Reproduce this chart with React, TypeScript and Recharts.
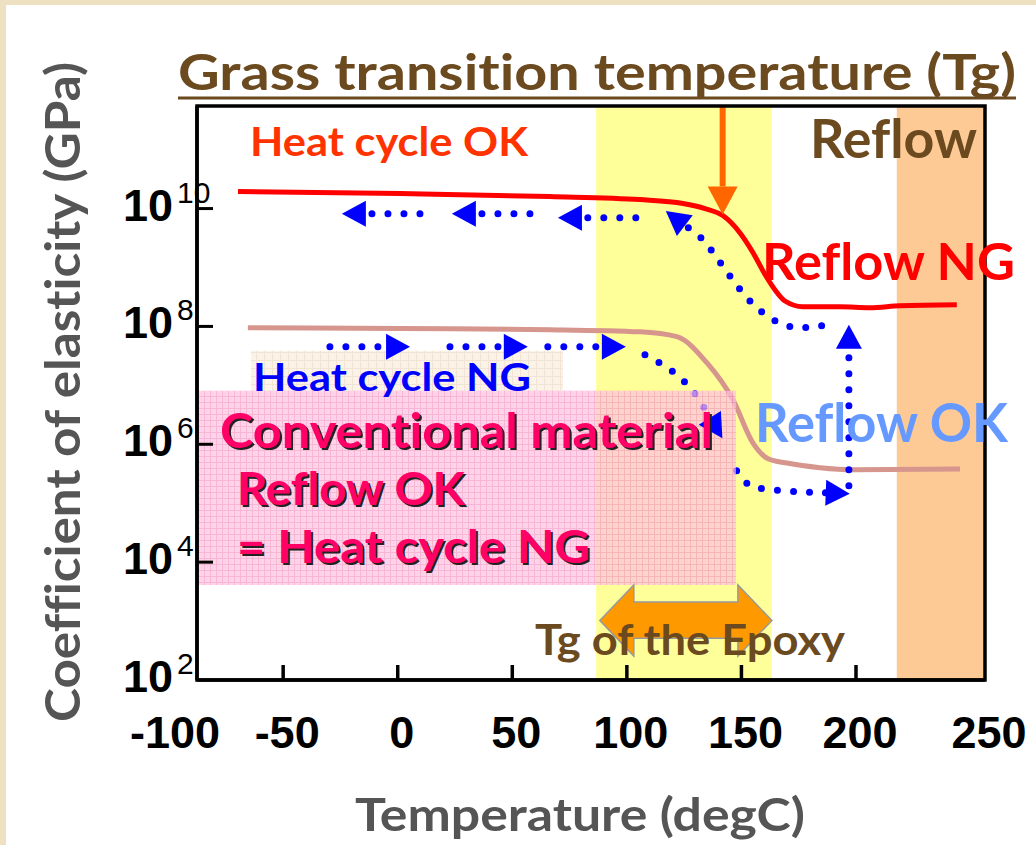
import React from 'react';
import { LineChart, Line, XAxis, YAxis, ReferenceArea } from 'recharts';

// axes
const xDomain = [-87.6, 256.3];
const yDomain = [100, 5.5e11];
const xTicks = [-87.6, -50, 0, 50, 100, 150, 200, 256.3];
const xTickLabels = ['-100', '-50', '0', '50', '100', '150', '200', '250'];
const yTicks = [1e2, 1e4, 1e6, 1e8, 1e10];
const yTickExponents = ['2', '4', '6', '8', '10'];

// new material (red) — temperature (degC) vs modulus
const newMaterial = [
  { t: -69.7, v: 1.95e10 },
  { t: 1, v: 1.8e10 },
  { t: 66.4, v: 1.6e10 },
  { t: 105.7, v: 1.42e10 },
  { t: 124.5, v: 1.22e10 },
  { t: 134.1, v: 1.0e10 },
  { t: 141.9, v: 7.6e9 },
  { t: 149.3, v: 3.9e9 },
  { t: 155.0, v: 1.8e9 },
  { t: 160.3, v: 7.6e8 },
  { t: 164.6, v: 4.2e8 },
  { t: 169.0, v: 2.7e8 },
  { t: 176.8, v: 2.16e8 },
  { t: 193.0, v: 2.16e8 },
  { t: 206.1, v: 2.08e8 },
  { t: 219.2, v: 2.25e8 },
  { t: 244.0, v: 2.34e8 },
];

// conventional material (brownish pink)
const conventional = [
  { t: -65.4, v: 9.5e7 },
  { t: 1, v: 9.2e7 },
  { t: 66.4, v: 8.8e7 },
  { t: 105.7, v: 8.1e7 },
  { t: 121.8, v: 6.7e7 },
  { t: 134.9, v: 2.42e7 },
  { t: 146.3, v: 5.7e6 },
  { t: 155.0, v: 1.06e6 },
  { t: 161.6, v: 5.7e5 },
  { t: 169.9, v: 4.8e5 },
  { t: 184.3, v: 4.0e5 },
  { t: 198.7, v: 3.7e5 },
  { t: 245.4, v: 3.8e5 },
];

// blue dotted arrows: each list runs from tail to the base of its head
const blueArrows = [
  [{ t: 9.7, v: 8.2e9 }, { t: -13.9, v: 8.2e9 }],
  [{ t: 57.7, v: 8.2e9 }, { t: 34.1, v: 8.2e9 }],
  [{ t: 103.9, v: 7.0e9 }, { t: 80.4, v: 7.0e9 }],
  [
    { t: 185.0, v: 1.03e8 },
    { t: 171.5, v: 9.9e7 },
    { t: 159.3, v: 1.71e8 },
    { t: 149.8, v: 4.05e8 },
    { t: 141.4, v: 1.12e9 },
    { t: 132.7, v: 3.09e9 },
    { t: 125.3, v: 5.14e9 },
  ],
  [{ t: -29.6, v: 4.5e7 }, { t: -5.1, v: 4.5e7 }],
  [{ t: 22.8, v: 4.5e7 }, { t: 46.3, v: 4.5e7 }],
  [{ t: 65.5, v: 4.5e7 }, { t: 89.1, v: 4.5e7 }],
  [
    { t: 107.9, v: 3.3e7 },
    { t: 120.1, v: 1.7e7 },
    { t: 129.7, v: 7.2e6 },
    { t: 136.2, v: 2.8e6 },
  ],
  [
    { t: 147.9, v: 3.55e5 },
    { t: 152.7, v: 2.13e5 },
    { t: 160.1, v: 1.75e5 },
    { t: 175.4, v: 1.56e5 },
    { t: 186.8, v: 1.5e5 },
  ],
  [{ t: 196.9, v: 1.97e5 }, { t: 196.9, v: 4.19e7 }],
];

// orange Tg marker (top edge down to head base)
const tgMarker = [
  { t: 141.8, v: 5.5e11 },
  { t: 141.8, v: 2.37e10 },
];

// shaded regions
const glassBand = [86.6, 163.3];
const reflowBand = [217.8, 256.3];
const conventionalBox = { t: [-87.6, 147.6], v: [4.1e3, 8.1e6] };
const heatNgBox = { t: [-64.1, 72.1], v: [8.1e6, 3.87e7] };
const epoxyArrow = { t: [88.2, 163.3], v: [255, 4.1e3] };

const TEXT_FONT = 'Lato, "DejaVu Sans", sans-serif';
const NUM_FONT = '"Liberation Sans", Arial, sans-serif';
const NO_LIGA = { fontVariantLigatures: 'none' as const };

const arrowHead = (len: number, wid: number, color: string) => {
  const seen: Record<number, { x: number; y: number }> = {};
  return (props: any) => {
    const { cx, cy, index, points } = props;
    seen[index] = { x: cx, y: cy };
    const last = points ? points.length - 1 : -1;
    const prev = points && index > 0 ? points[index - 1] : seen[index - 1];
    if (index !== last || !prev) return <g key={`d-${index}`} />;
    const ang = Math.atan2(cy - prev.y, cx - prev.x);
    const ux = Math.cos(ang);
    const uy = Math.sin(ang);
    const tip = `${cx + ux * len},${cy + uy * len}`;
    const a = `${cx - (uy * wid) / 2},${cy + (ux * wid) / 2}`;
    const b = `${cx + (uy * wid) / 2},${cy - (ux * wid) / 2}`;
    return <polygon key={`d-${index}`} points={`${tip} ${a} ${b}`} fill={color} stroke="none" />;
  };
};

const XTick = (props: any) => {
  const { x, y, payload } = props;
  const i = xTicks.indexOf(payload.value);
  const inner = i > 0 && i < xTicks.length - 1;
  const dx = i === 0 ? -22 : 4;
  return (
    <g>
      {inner && <line x1={x} x2={x} y1={y} y2={y - 15} stroke="#000" strokeWidth={3.5} />}
      <text x={x + dx} y={y + 68} textAnchor="middle" fontFamily={NUM_FONT} fontWeight="bold" fontSize={45} fill="#000">
        {xTickLabels[i]}
      </text>
    </g>
  );
};

const YTick = (props: any) => {
  const { x, y, payload } = props;
  const i = yTicks.indexOf(payload.value);
  return (
    <g>
      {i > 0 && <line x1={x} x2={x + 16} y1={y} y2={y} stroke="#000" strokeWidth={3} />}
      <text x={x - 74} y={y + 12} fontFamily={NUM_FONT} fontWeight="bold" fontSize={45} fill="#000">
        10
        <tspan dx={4} dy={-18} fontSize={30} fontWeight="normal">
          {yTickExponents[i]}
        </tspan>
      </text>
    </g>
  );
};

const DoubleArrow = (props: any) => {
  const { x, y, width: w, height: h } = props;
  const head = 34;
  const s1 = y + h * 0.24;
  const s2 = y + h * 0.75;
  const pts = [
    [x, y + h / 2],
    [x + head, y],
    [x + head, s1],
    [x + w - head, s1],
    [x + w - head, y],
    [x + w, y + h / 2],
    [x + w - head, y + h],
    [x + w - head, s2],
    [x + head, s2],
    [x + head, y + h],
  ]
    .map((p) => p.join(','))
    .join(' ');
  return <polygon points={pts} fill="#ff9900" stroke="#999" strokeWidth={1.5} />;
};

const Label = ({ x, y, size, width, fill, children, shadow }: any) => (
  <g>
    {shadow && (
      <text x={x + 2} y={y + 2} fontFamily={TEXT_FONT} fontWeight="bold" fontSize={size} fill="#222"
        textLength={width} lengthAdjust="spacingAndGlyphs" style={NO_LIGA}>
        {children}
      </text>
    )}
    <text x={x} y={y} fontFamily={TEXT_FONT} fontWeight="bold" fontSize={size} fill={fill}
      textLength={width} lengthAdjust="spacingAndGlyphs" style={NO_LIGA}>
      {children}
    </text>
  </g>
);

export default function App() {
  return (
    <div style={{ position: 'absolute', left: 0, top: 0, width: 1036, height: 845, background: '#eee1c1', overflow: 'hidden' }}>
      <div style={{ position: 'absolute', left: 6, top: 5, right: 0, bottom: 0, background: '#fff' }} />
      <svg width={0} height={0} style={{ position: 'absolute' }}>
        <defs>
          <pattern id="pinkGrid" width={6} height={6} patternUnits="userSpaceOnUse">
            <rect width={6} height={6} fill="#ffc4e2" />
            <path d="M0 0.5H6M0.5 0V6" stroke="#f29ac4" strokeWidth={1} />
            <rect x={3} y={3} width={1} height={1} fill="#f7b0d4" />
          </pattern>
          <pattern id="creamGrid" width={8} height={8} patternUnits="userSpaceOnUse">
            <rect width={8} height={8} fill="#fbf2e8" />
            <path d="M0 0.5H8M0.5 0V8" stroke="#f2e4d4" strokeWidth={1} />
          </pattern>
        </defs>
      </svg>
      <div style={{ position: 'absolute', left: 0, top: 0 }}>
        <LineChart width={1036} height={845} margin={{ top: 106, right: 51, bottom: 135, left: 117 }}>
          <ReferenceArea x1={glassBand[0]} x2={glassBand[1]} y1={yDomain[0]} y2={yDomain[1]} fill="#ffff99" fillOpacity={1} stroke="none" ifOverflow="visible" zIndex={50} />
          <ReferenceArea x1={reflowBand[0]} x2={reflowBand[1]} y1={yDomain[0]} y2={yDomain[1]} fill="#fdca96" fillOpacity={1} stroke="none" ifOverflow="visible" zIndex={50} />
          <ReferenceArea x1={heatNgBox.t[0]} x2={heatNgBox.t[1]} y1={heatNgBox.v[0]} y2={heatNgBox.v[1]} fill="url(#creamGrid)" fillOpacity={1} stroke="none" ifOverflow="visible" zIndex={60} />
          <Line data={conventional} dataKey="v" type="monotone" stroke="#d6968d" strokeWidth={5} dot={false} activeDot={false} isAnimationActive={false} />
          <Line data={newMaterial} dataKey="v" type="monotone" stroke="#ff0000" strokeWidth={5} dot={false} activeDot={false} isAnimationActive={false} />
          {blueArrows.map((pts, i) => (
            <Line
              key={`arrow-${i}`}
              data={pts}
              dataKey="v"
              type={pts.length > 2 ? 'natural' : 'linear'}
              stroke="#0000ff"
              strokeWidth={7}
              strokeDasharray="0 16"
              strokeLinecap="round"
              dot={arrowHead(24, 26, '#0000ff')}
              activeDot={false}
              isAnimationActive={false}
            />
          ))}
          <Line data={tgMarker} dataKey="v" type="linear" stroke="#ff6600" strokeWidth={6} dot={arrowHead(28, 30, '#ff6600')} activeDot={false} isAnimationActive={false} />
          <ReferenceArea x1={conventionalBox.t[0]} x2={conventionalBox.t[1]} y1={conventionalBox.v[0]} y2={conventionalBox.v[1]} fill="url(#pinkGrid)" fillOpacity={0.72} stroke="none" ifOverflow="visible" zIndex={450} />
          <ReferenceArea x1={epoxyArrow.t[0]} x2={epoxyArrow.t[1]} y1={epoxyArrow.v[0]} y2={epoxyArrow.v[1]} shape={DoubleArrow} ifOverflow="visible" zIndex={460} />
          <XAxis
            type="number"
            dataKey="t"
            domain={xDomain}
            allowDataOverflow
            ticks={xTicks}
            interval={0}
            height={30}
            tickSize={0}
            tickMargin={0}
            tickLine={false}
            axisLine={{ stroke: '#000', strokeWidth: 3.5 }}
            tick={<XTick />}
          />
          <YAxis
            type="number"
            scale="log"
            domain={yDomain}
            allowDataOverflow
            ticks={yTicks}
            interval={0}
            width={80}
            tickSize={0}
            tickMargin={0}
            tickLine={false}
            axisLine={{ stroke: '#000', strokeWidth: 3.5 }}
            tick={<YTick />}
          />
          <ReferenceArea x1={xDomain[0]} x2={xDomain[1]} y1={yDomain[0]} y2={yDomain[1]} fill="none" fillOpacity={0} stroke="#000" strokeWidth={3.5} ifOverflow="visible" zIndex={600} />
        </LineChart>
      </div>
      <svg width={1036} height={845} style={{ position: 'absolute', left: 0, top: 0, pointerEvents: 'none' }}>
        <Label x={178} y={90} size={50} width={838} fill="#6b4a1f">Grass transition temperature (Tg)</Label>
        <line x1={178} x2={1016} y1={98} y2={98} stroke="#6b4a1f" strokeWidth={3} />
        <Label x={250} y={156} size={40} width={278} fill="#ff3300">Heat cycle OK</Label>
        <Label x={810} y={158} size={53} width={167} fill="#6b4a1f">Reflow</Label>
        <Label x={762} y={280} size={52} width={253} fill="#ff0000">Reflow NG</Label>
        <Label x={253} y={391} size={39} width={278} fill="#0000ff">Heat cycle NG</Label>
        <Label x={755} y={442} size={53} width={253} fill="#6699ff">Reflow OK</Label>
        <Label x={220} y={448} size={47} width={493} fill="#ff0066" shadow>Conventional material</Label>
        <Label x={237} y={505} size={46} width={228} fill="#ff0066" shadow>Reflow OK</Label>
        <Label x={237} y={563} size={46} width={353} fill="#ff0066" shadow>= Heat cycle NG</Label>
        <Label x={535} y={655} size={42} width={310} fill="#6b4a1f">Tg of the Epoxy</Label>
        <Label x={355} y={831} size={46} width={450} fill="#555">Temperature (degC)</Label>
        <g transform="translate(80,392) rotate(-90)">
          <text x={0} y={0} textAnchor="middle" fontFamily={TEXT_FONT} fontWeight="bold" fontSize={48} fill="#555"
            textLength={660} lengthAdjust="spacingAndGlyphs" style={NO_LIGA}>
            Coefficient of elasticity (GPa)
          </text>
        </g>
      </svg>
    </div>
  );
}
